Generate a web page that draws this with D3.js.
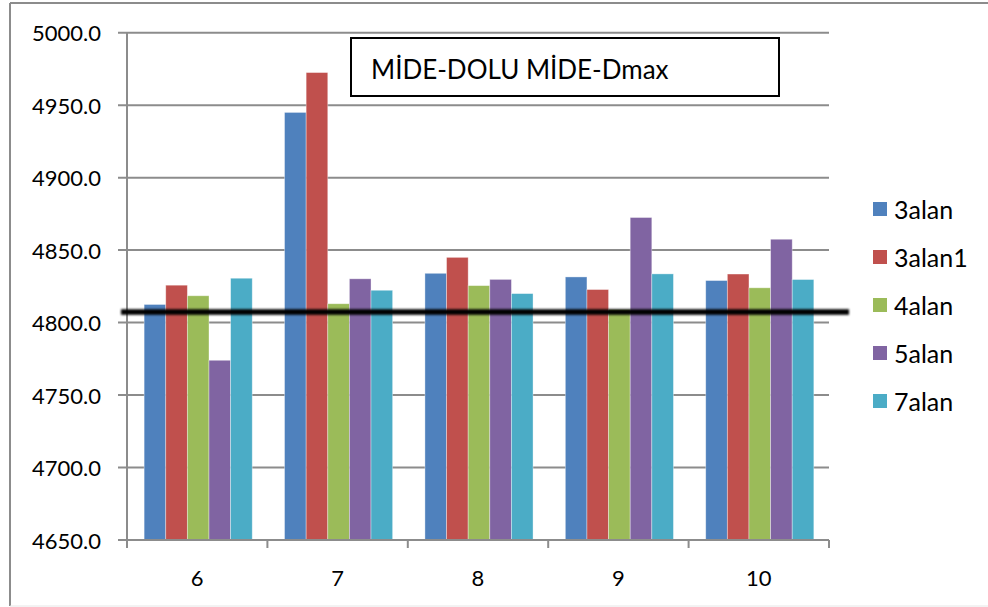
<!DOCTYPE html>
<html>
<head>
<meta charset="utf-8">
<script src="https://cdn.jsdelivr.net/npm/d3@7"></script>
<style>
  html, body { margin: 0; padding: 0; background: #fff; }
  svg { display: block; }
  text { font-family: Lato, "Open Sans", sans-serif; fill: #000; }
</style>
</head>
<body>
<svg id="chart" width="988" height="607"></svg>
<script>
// Categories along the x axis
const categories = ["6", "7", "8", "9", "10"];
// Series names shown in the legend
const seriesNames = ["3alan", "3alan1", "4alan", "5alan", "7alan"];
// Values per series, one entry per category
const s3alan  = [4812.5, 4945.0, 4834.0, 4831.5, 4829.0];
const s3alan1 = [4825.8, 4972.5, 4845.0, 4822.8, 4833.5];
const s4alan  = [4818.5, 4813.0, 4825.5, 4809.0, 4824.0];
const s5alan  = [4774.0, 4830.2, 4829.8, 4872.5, 4857.5];
const s7alan  = [4830.6, 4822.3, 4820.0, 4833.6, 4829.7];
const seriesValues = [s3alan, s3alan1, s4alan, s5alan, s7alan];
const seriesColors = ["#4F81BD", "#C0504D", "#9BBB59", "#8064A2", "#4BACC6"];
// Y axis ticks
const yTicks = [4650, 4700, 4750, 4800, 4850, 4900, 4950, 5000];
// Horizontal marker line level
const refValue = 4807.3;
const titleText = "MİDE-DOLU MİDE-Dmax";

const svg = d3.select("#chart");

// Outer frame
svg.append("line").attr("x1", 10).attr("y1", 3).attr("x2", 988).attr("y2", 3)
  .attr("stroke", "#8c8c8c").attr("stroke-width", 2);
svg.append("line").attr("x1", 10).attr("y1", 3).attr("x2", 10).attr("y2", 606)
  .attr("stroke", "#8c8c8c").attr("stroke-width", 2);
svg.append("line").attr("x1", 10).attr("y1", 606).attr("x2", 988).attr("y2", 606)
  .attr("stroke", "#e6e6e6").attr("stroke-width", 1);

const plotLeft = 127, plotRight = 829, plotTop = 32.7, plotBottom = 540;

const y = d3.scaleLinear().domain([4650, 5000]).range([plotBottom, plotTop]);
const x0 = d3.scaleBand().domain(categories).range([plotLeft, plotRight]).padding(0);
const x1 = d3.scaleBand().domain(seriesNames)
  .range([x0.bandwidth() * 0.122, x0.bandwidth() * 0.892]).padding(0);

// Gridlines
svg.append("g").selectAll("line").data(yTicks).join("line")
  .attr("x1", plotLeft - 9).attr("x2", plotRight)
  .attr("y1", d => y(d)).attr("y2", d => y(d))
  .attr("stroke", "#8c8c8c").attr("stroke-width", 2);

// Y axis line
svg.append("line").attr("x1", plotLeft).attr("x2", plotLeft)
  .attr("y1", plotTop).attr("y2", plotBottom)
  .attr("stroke", "#8c8c8c").attr("stroke-width", 2);

// Y tick labels
svg.append("g").selectAll("text").data(yTicks).join("text")
  .attr("x", 101).attr("y", d => y(d))
  .attr("text-anchor", "end").attr("dominant-baseline", "central")
  .style("font-size", "22px")
  .text(d => d3.format(".1f")(d));

// Bars
const groups = svg.append("g").selectAll("g").data(categories).join("g")
  .attr("transform", c => `translate(${x0(c)},0)`);
groups.selectAll("rect")
  .data((c, ci) => seriesNames.map((s, si) => ({ s, si, v: seriesValues[si][ci] })))
  .join("rect")
  .attr("x", d => x1(d.s))
  .attr("width", x1.bandwidth())
  .attr("y", d => y(d.v))
  .attr("height", d => plotBottom - y(d.v))
  .attr("fill", d => seriesColors[d.si])
  .attr("stroke", "rgba(255,255,255,0.45)")
  .attr("stroke-width", 0.8);

// X axis line and ticks
svg.append("line").attr("x1", plotLeft).attr("x2", plotRight)
  .attr("y1", plotBottom).attr("y2", plotBottom)
  .attr("stroke", "#8c8c8c").attr("stroke-width", 2);
const xTickPos = categories.map(c => x0(c)).concat([plotRight]);
svg.append("g").selectAll("line").data(xTickPos).join("line")
  .attr("x1", d => d).attr("x2", d => d)
  .attr("y1", plotBottom).attr("y2", plotBottom + 8)
  .attr("stroke", "#8c8c8c").attr("stroke-width", 2);
svg.append("g").selectAll("text").data(categories).join("text")
  .attr("x", c => x0(c) + x0.bandwidth() / 2).attr("y", 577)
  .attr("text-anchor", "middle").attr("dominant-baseline", "central")
  .style("font-size", "22px")
  .text(c => c);

// Thick horizontal marker line, slightly softened
const defs = svg.append("defs");
defs.append("filter").attr("id", "soft")
  .attr("filterUnits", "userSpaceOnUse")
  .attr("x", 100).attr("y", 290).attr("width", 780).attr("height", 50)
  .append("feGaussianBlur").attr("stdDeviation", 0.9);
const yRef = y(refValue);
svg.append("rect")
  .attr("x", 121).attr("width", 849 - 121)
  .attr("y", yRef - 2.8).attr("height", 5.6)
  .attr("fill", "#000")
  .attr("filter", "url(#soft)");

// Title box
svg.append("rect").attr("x", 351).attr("y", 38).attr("width", 428).attr("height", 58)
  .attr("fill", "#fff").attr("stroke", "#000").attr("stroke-width", 2);
svg.append("text").attr("x", 371).attr("y", 69)
  .attr("dominant-baseline", "central")
  .style("font-size", "26px")
  .text(titleText);

// Legend
const legend = svg.append("g").selectAll("g").data(seriesNames).join("g")
  .attr("transform", (d, i) => `translate(873,${209 + i * 48})`);
legend.append("rect").attr("x", 0).attr("y", -7).attr("width", 14).attr("height", 14)
  .attr("fill", (d, i) => seriesColors[i]);
legend.append("text").attr("x", 21).attr("y", 0)
  .attr("dominant-baseline", "central")
  .style("font-size", "25px")
  .text(d => d);
</script>
</body>
</html>
